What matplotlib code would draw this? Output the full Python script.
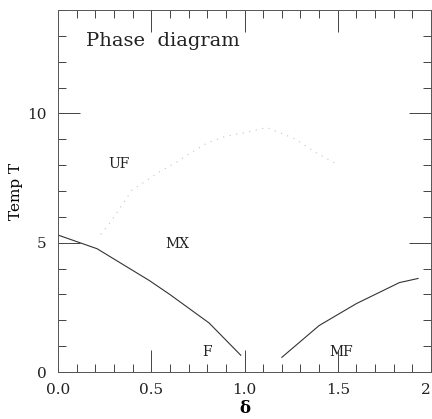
import numpy as np
from matplotlib import pyplot as plt
from matplotlib.ticker import MultipleLocator

# ferromagnetic / mixed boundary (left branch)
delta_f = [0.0, 0.21, 0.49, 0.6, 0.81, 0.98]
temp_f = [5.3, 4.77, 3.54, 3.0, 1.9, 0.65]

# modulated ferro boundary (right branch)
delta_mf = [1.2, 1.4, 1.6, 1.83, 1.93]
temp_mf = [0.57, 1.8, 2.65, 3.46, 3.62]

# dotted upper boundary UF / MX
delta_uf = [0.23, 0.28, 0.37, 0.39, 0.55, 0.63, 0.71, 0.80, 0.90, 0.99, 1.12, 1.27, 1.37, 1.49]
temp_uf = [5.33, 5.78, 6.74, 7.0, 7.77, 8.09, 8.47, 8.86, 9.12, 9.24, 9.46, 9.02, 8.54, 8.06]

region_labels = ["UF", "MX", "F", "MF"]
region_x = [0.33, 0.64, 0.8, 1.52]
region_y = [8.05, 4.95, 0.78, 0.78]

xticks = [0.0, 0.5, 1.0, 1.5, 2.0]
xticklabels = ["0.0", "0.5", "1.0", "1.5", "2"]
yticks = [0, 5, 10]

plt.rcParams['font.family'] = ['DejaVu Serif']

fig = plt.figure(figsize=(4.32, 4.19), dpi=100)
ax = fig.add_axes([0.134, 0.112, 0.864, 0.864])

ax.plot(delta_f, temp_f, color='#333333', lw=0.8)
ax.plot(delta_mf, temp_mf, color='#333333', lw=0.8)
ax.plot(delta_uf, temp_uf, color='#c4c4c4', lw=0.8, ls=(0, (1, 5)))

for lab, x, y in zip(region_labels, region_x, region_y):
    ax.text(x, y, lab, fontsize=10, ha='center', va='center', color='#222222')

ax.text(0.15, 12.8, "Phase  diagram", fontsize=14, ha='left', va='center', color='#222222')

ax.set_xlim(0, 2)
ax.set_ylim(0, 14)
ax.set_xticks(xticks)
ax.set_xticklabels(xticklabels)
ax.get_xticklabels()[-1].set_horizontalalignment('right')
ax.set_yticks(yticks)
ax.xaxis.set_minor_locator(MultipleLocator(0.1))
ax.yaxis.set_minor_locator(MultipleLocator(1))
ax.tick_params(which='both', direction='in', top=True, right=True, colors='#444444',
               labelcolor='#222222', labelsize=11, width=0.7)
ax.tick_params(which='major', length=16, pad=8)
ax.tick_params(which='minor', length=6)
for s in ax.spines.values():
    s.set_linewidth(0.7)
    s.set_color('#555555')

ax.set_ylabel("Temp T", fontsize=11, labelpad=3)
ax.set_xlabel("δ", fontsize=12, fontweight='bold', labelpad=2)

fig.savefig("out.png", dpi=100)
